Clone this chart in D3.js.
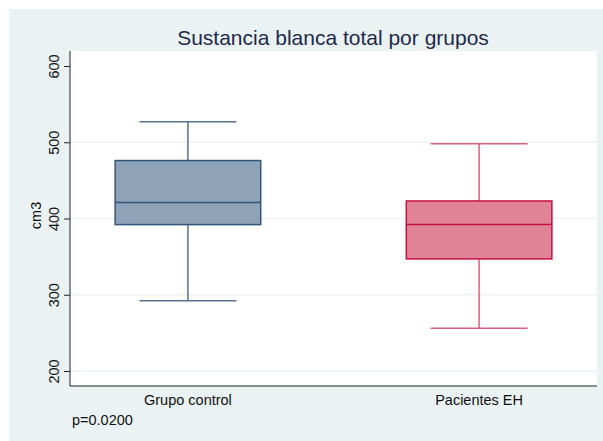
<!DOCTYPE html>
<html>
<head>
<meta charset="utf-8">
<script src="https://cdn.jsdelivr.net/npm/d3@7"></script>
<style>
  body { margin: 0; background: #fff; }
  text { font-family: "Liberation Sans", Arial, sans-serif; }
</style>
</head>
<body>
<div id="chart"></div>
<script>
// Data
const groups = ["Grupo control", "Pacientes EH"];
const lowWhisker = [292, 256];
const q1 = [392, 347];
const median = [421, 392];
const q3 = [476, 423];
const highWhisker = [527, 498];
const yTicks = [200, 300, 400, 500, 600];
const gridTicks = [200, 300, 400, 500];

const fills = ["#8ea3b7", "#e08298"];
const strokes = ["#33567c", "#c8103e"];
const whiskerColors = ["#56728f", "#d8607c"];

const W = 603, H = 441;
const margin = {top: 51, right: 6, bottom: 55, left: 70};
const width = W - margin.left - margin.right,
      height = H - margin.top - margin.bottom;

const svg = d3.select("#chart")
  .append("svg")
    .attr("width", W)
    .attr("height", H);

// Graph region background
svg.append("rect")
    .attr("x", 9).attr("y", 9)
    .attr("width", W - 9).attr("height", H - 9)
    .attr("fill", "#eaf2f3");

// Plot region
svg.append("rect")
    .attr("x", margin.left).attr("y", margin.top)
    .attr("width", width).attr("height", height)
    .attr("fill", "#ffffff");

const g = svg.append("g")
    .attr("transform", `translate(${margin.left},${margin.top})`);

// Scales
const y = d3.scaleLinear()
    .domain([200, 600])
    .range([320, 15]);

const x = d3.scaleBand()
    .domain(groups)
    .range([0, width])
    .paddingInner(0.5)
    .paddingOuter(0.155);

// Gridlines
g.append("g")
  .selectAll("line")
  .data(gridTicks)
  .join("line")
    .attr("x1", 0).attr("x2", width)
    .attr("y1", d => y(d)).attr("y2", d => y(d))
    .attr("stroke", "#eaf2f3")
    .attr("stroke-width", 1.5);

// Boxes
const boxes = g.append("g")
  .selectAll("g")
  .data(groups.map((name, i) => ({name, i})))
  .join("g");

const capHalf = 48.5;

boxes.each(function(d) {
  const i = d.i;
  const cx = x(d.name) + x.bandwidth() / 2;
  const b = d3.select(this);
  // whisker lines
  b.append("line")
      .attr("x1", cx).attr("x2", cx)
      .attr("y1", y(q3[i])).attr("y2", y(highWhisker[i]))
      .attr("stroke", whiskerColors[i]).attr("stroke-width", 1.5);
  b.append("line")
      .attr("x1", cx).attr("x2", cx)
      .attr("y1", y(q1[i])).attr("y2", y(lowWhisker[i]))
      .attr("stroke", whiskerColors[i]).attr("stroke-width", 1.5);
  // caps
  [highWhisker[i], lowWhisker[i]].forEach(v => {
    b.append("line")
        .attr("x1", cx - capHalf).attr("x2", cx + capHalf)
        .attr("y1", y(v)).attr("y2", y(v))
        .attr("stroke", whiskerColors[i]).attr("stroke-width", 1.5);
  });
  // box
  b.append("rect")
      .attr("x", x(d.name))
      .attr("y", y(q3[i]))
      .attr("width", x.bandwidth())
      .attr("height", y(q1[i]) - y(q3[i]))
      .attr("fill", fills[i])
      .attr("stroke", strokes[i])
      .attr("stroke-width", 1.5);
  // median
  b.append("line")
      .attr("x1", x(d.name)).attr("x2", x(d.name) + x.bandwidth())
      .attr("y1", y(median[i])).attr("y2", y(median[i]))
      .attr("stroke", strokes[i]).attr("stroke-width", 1.5);
});

// Y axis
const yAxis = g.append("g")
    .call(d3.axisLeft(y).tickValues(yTicks).tickSize(6).tickPadding(3).tickSizeOuter(0));
yAxis.select(".domain").attr("stroke", "#222").attr("d", `M0,0V${height}`);
yAxis.selectAll(".tick line").attr("stroke", "#222");
yAxis.selectAll(".tick text")
    .attr("transform", "rotate(-90)")
    .attr("x", 0)
    .attr("y", -11)
    .attr("dy", 0)
    .attr("text-anchor", "middle")
    .attr("font-size", 14.5)
    .attr("fill", "#111");

// Bottom axis line
g.append("line")
    .attr("x1", 0).attr("x2", width)
    .attr("y1", height).attr("y2", height)
    .attr("stroke", "#222");

// Group labels
g.append("g")
  .selectAll("text")
  .data(groups)
  .join("text")
    .attr("x", d => x(d) + x.bandwidth() / 2)
    .attr("y", height + 19)
    .attr("text-anchor", "middle")
    .attr("font-size", 14.5)
    .attr("fill", "#111")
    .text(d => d);

// Y axis title
svg.append("text")
    .attr("transform", `translate(41,${margin.top + height / 2 - 3}) rotate(-90)`)
    .attr("text-anchor", "middle")
    .attr("font-size", 14.5)
    .attr("fill", "#111")
    .text("cm3");

// Title
svg.append("text")
    .attr("x", 333)
    .attr("y", 45)
    .attr("text-anchor", "middle")
    .attr("font-size", 21)
    .attr("fill", "#1e2a4a")
    .text("Sustancia blanca total por grupos");

// Note
svg.append("text")
    .attr("x", 72)
    .attr("y", 425)
    .attr("font-size", 14.5)
    .attr("fill", "#111")
    .text("p=0.0200");
</script>
</body>
</html>
